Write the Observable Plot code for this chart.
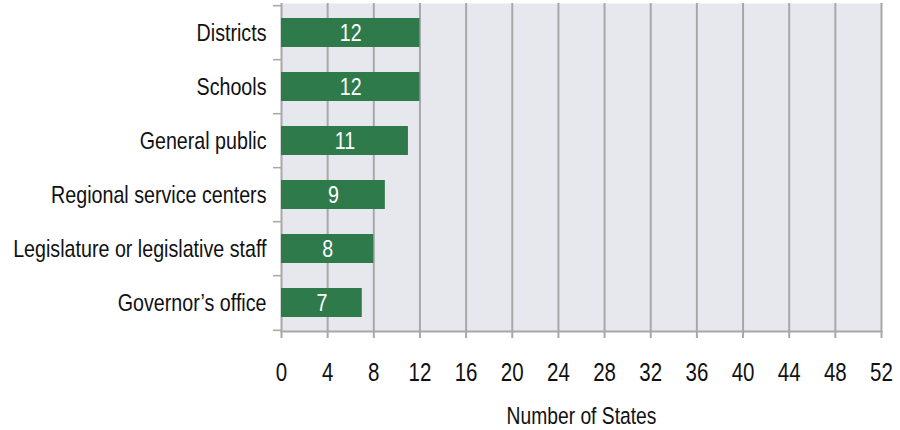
<!DOCTYPE html>
<html>
<head>
<meta charset="utf-8">
<script src="https://cdn.jsdelivr.net/npm/d3@7"></script>
<script src="https://cdn.jsdelivr.net/npm/@observablehq/plot@0.6"></script>
<style>
  html, body { margin: 0; padding: 0; background: #fff; }
  #chart svg { display: block; }
</style>
</head>
<body>
<div id="chart"></div>
<script>
const categories = ["Districts", "Schools", "General public", "Regional service centers", "Legislature or legislative staff", "Governor’s office"];
const values = [12, 12, 11, 9, 8, 7];
const xTicks = [0, 4, 8, 12, 16, 20, 24, 28, 32, 36, 40, 44, 48, 52];
const xLabel = "Number of States";

const data = categories.map((c, i) => ({category: c, value: values[i]}));

const W = 900, H = 430;
const mTop = 3, mBottom = 99, mLeft = 281, mRight = 19;
const step = (H - mTop - mBottom) / categories.length;
const gridColor = "#a8a8a8";
const font = "'Liberation Sans', Arial, sans-serif";

const chart = Plot.plot({
  width: W,
  height: H,
  marginTop: mTop,
  marginBottom: mBottom,
  marginLeft: mLeft,
  marginRight: mRight,
  style: {fontFamily: font, color: "#111", background: "#fff"},
  x: {domain: [0, 52]},
  y: {domain: categories, paddingInner: 0.47, paddingOuter: 0.235},
  marks: [
    Plot.frame({fill: "#e7e7ee", stroke: null}),
    Plot.ruleX(xTicks, {stroke: gridColor, strokeWidth: 2}),
    Plot.frame({anchor: "bottom", stroke: gridColor, strokeWidth: 2}),
    Plot.barX(data, {x: "value", y: "category", fill: "#2e7a4b"}),
    Plot.text(data, {x: d => d.value / 2, y: "category", text: d => String(d.value), fill: "#fff", fontSize: 24}),
    Plot.axisX({ticks: xTicks, tickSize: 7, tickPadding: 25, fontSize: 25, stroke: gridColor, strokeWidth: 2,
      label: xLabel, labelAnchor: "center", labelOffset: 92, labelArrow: "none"}),
    Plot.axisY({tickSize: 8, tickFormat: () => "", label: null, dy: -step / 2, stroke: gridColor, strokeWidth: 1.5}),
    Plot.axisY([categories[categories.length - 1]], {tickSize: 8, tickFormat: () => "", label: null, dy: step / 2, stroke: gridColor, strokeWidth: 1.5}),
    Plot.axisY({tickSize: 0, tickPadding: 15, fontSize: 24, label: null})
  ]
});

// condense all text horizontally (narrow typeface look), scaling about each text's anchor
chart.querySelectorAll("text").forEach(t => {
  const tr = t.getAttribute("transform") || "";
  t.setAttribute("transform", (tr + " scale(0.82,1)").trim());
  if (t.textContent === xLabel) t.setAttribute("font-size", "23.5");
});

document.getElementById("chart").appendChild(chart);
</script>
</body>
</html>
